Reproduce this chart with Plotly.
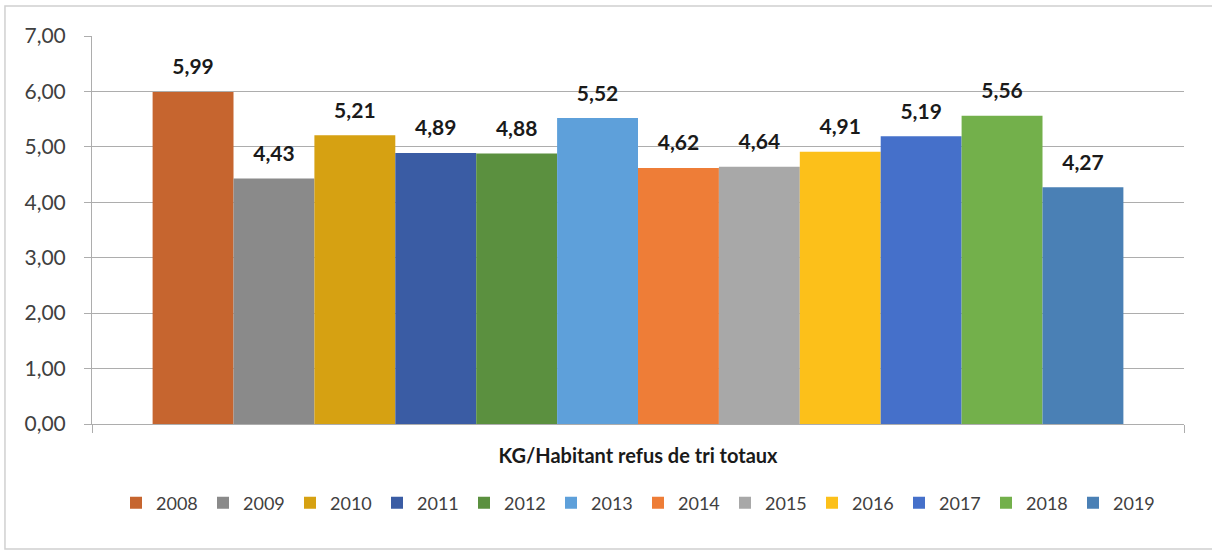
import plotly.graph_objects as go

category = ["KG/Habitant refus de tri totaux"]
years = ["2008", "2009", "2010", "2011", "2012", "2013",
         "2014", "2015", "2016", "2017", "2018", "2019"]
values = [5.99, 4.43, 5.21, 4.89, 4.88, 5.52,
          4.62, 4.64, 4.91, 5.19, 5.56, 4.27]
colors = ["#C6652F", "#8A8A8A", "#D6A112", "#3A5CA4", "#5B903F", "#5EA0DA",
          "#EE7D37", "#A8A8A8", "#FCC01A", "#4570CA", "#73B04B", "#4A80B5"]

FONT = "Lato"
GRID = "#ADADAD"

fig = go.Figure()
for yr, v, c in zip(years, values, colors):
    fig.add_trace(go.Bar(
        x=category, y=[v], name=yr, marker=dict(color=c, line=dict(width=0)),
        offsetgroup=yr, hoverinfo="skip",
    ))
for yr, v in zip(years, values):
    fig.add_trace(go.Scatter(
        x=category, y=[v], mode="markers+text", offsetgroup=yr,
        marker=dict(size=18, opacity=0), text=[v], texttemplate="<b>%{y:.2f}</b>",
        textposition="top center", cliponaxis=False, showlegend=False,
        textfont=dict(family=FONT, size=21, color="#1A1A1A"), hoverinfo="skip",
    ))

fig.update_layout(
    width=1212, height=551,
    margin=dict(l=92, r=28, t=36, b=127),
    paper_bgcolor="white", plot_bgcolor="white",
    barmode="group", bargap=0.111, scattermode="group", scattergap=0.111,
    separators=", ",
    font=dict(family=FONT, color="#404040"),
    showlegend=True,
    legend=dict(orientation="h", x=0.5, xanchor="center", y=-0.204, yanchor="middle",
                font=dict(family=FONT, size=18, color="#404040"),
                entrywidth=42, itemwidth=30, bgcolor="rgba(0,0,0,0)"),
    xaxis=dict(showline=True, linecolor=GRID, linewidth=1, ticks="outside",
               tickson="boundaries", ticklen=8, tickcolor=GRID, showgrid=False,
               tickfont=dict(family=FONT, size=20, color="#1A1A1A"),
               ticklabelstandoff=14, tickprefix="<b>", ticksuffix="</b>"),
    yaxis=dict(range=[0, 7], dtick=1, tickformat=".2f", showgrid=True, gridcolor=GRID,
               gridwidth=1, showline=True, linecolor=GRID, linewidth=1, ticks="outside",
               ticklen=7, tickcolor=GRID, zeroline=False,
               tickfont=dict(family=FONT, size=21, color="#404040"),
               ticklabelstandoff=14),
    shapes=[dict(type="rect", xref="paper", yref="paper",
                 x0=-0.0797, x1=1.04, y0=-0.322, y1=1.077,
                 line=dict(color="#D0D0D0", width=1.5), fillcolor="rgba(0,0,0,0)",
                 layer="below")],
)

fig.write_html("out.html", config={"displayModeBar": False},
               post_script="document.body.style.margin='0';document.body.style.overflow='hidden';")
